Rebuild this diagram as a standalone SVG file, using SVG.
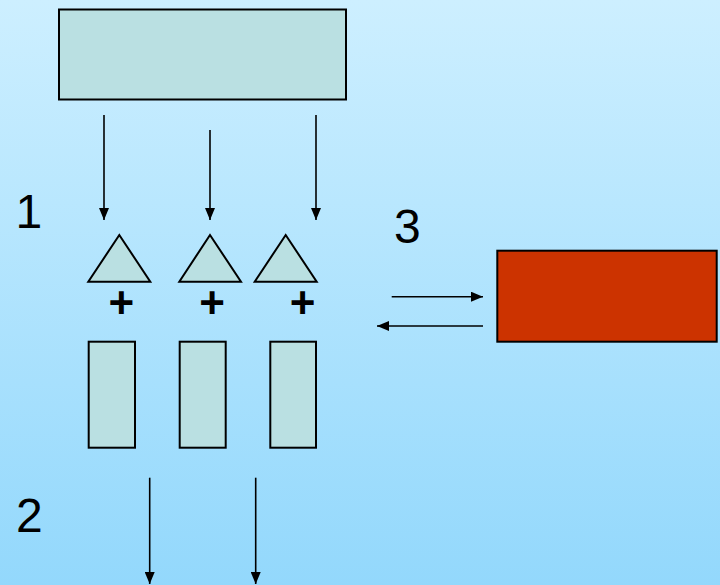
<svg xmlns="http://www.w3.org/2000/svg" width="720" height="585" viewBox="0 0 720 585">
<defs>
<linearGradient id="bg" x1="0" y1="0" x2="0" y2="1">
<stop offset="0" stop-color="#CDEFFF"/>
<stop offset="1" stop-color="#93D8FC"/>
</linearGradient>
<marker id="ah" markerWidth="12" markerHeight="10" refX="12" refY="5" orient="auto" markerUnits="userSpaceOnUse">
<path d="M0,0 L12,5 L0,10 Z" fill="#000"/>
</marker>
<style>
.box{fill:#BAE0E2;stroke:#000;stroke-width:2}
.red{fill:#CC3300;stroke:#000;stroke-width:2}
.con{stroke:#000;stroke-width:1.6;fill:none;marker-end:url(#ah)}
.lbl{font-family:"Liberation Sans",Arial,sans-serif;font-size:48px;fill:#000}
.plus{font-family:"Liberation Sans",Arial,sans-serif;font-size:44px;font-weight:bold;fill:#000;text-anchor:middle}
</style>
</defs>
<rect width="720" height="585" fill="url(#bg)"/>
<g id="top-box"><rect class="box" x="59" y="9.5" width="287" height="90"/></g>
<g id="tri1"><polygon class="box" points="119.3,235 88.3,281.7 150.3,281.7"/><text class="plus" x="121.3" y="318">+</text></g>
<g id="tri2"><polygon class="box" points="210,235 179.3,281.7 241,281.7"/><text class="plus" x="212" y="318">+</text></g>
<g id="tri3"><polygon class="box" points="285.7,235 254.7,281.7 316.7,281.7"/><text class="plus" x="302.7" y="318">+</text></g>
<g id="bar1"><rect class="box" x="88.7" y="341.7" width="46.3" height="106"/></g>
<g id="bar2"><rect class="box" x="179.7" y="341.7" width="46" height="106"/></g>
<g id="bar3"><rect class="box" x="270.3" y="341.7" width="45.7" height="106"/></g>
<g id="red-box"><rect class="red" x="497.3" y="250.7" width="219.4" height="91"/></g>
<g id="labels">
<text class="lbl" x="15.5" y="228.3">1</text>
<text class="lbl" x="16" y="532.3">2</text>
<text class="lbl" x="394" y="242.7">3</text>
</g>
<g id="connectors">
<line class="con" x1="104" y1="115" x2="104" y2="220"/>
<line class="con" x1="210" y1="130" x2="210" y2="220"/>
<line class="con" x1="316" y1="115" x2="316" y2="220"/>
<line class="con" x1="391.7" y1="296.7" x2="483" y2="296.7"/>
<line class="con" x1="483" y1="326" x2="377" y2="326"/>
<line class="con" x1="149.7" y1="477.7" x2="149.7" y2="584"/>
<line class="con" x1="255.7" y1="477.7" x2="255.7" y2="584"/>
</g>
</svg>
